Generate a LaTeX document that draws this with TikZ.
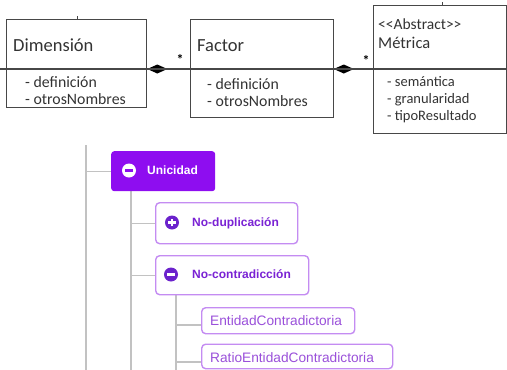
\documentclass[tikz,border=0pt]{standalone}
\usepackage{fontspec}
\setmainfont{Carlito}
\newfontfamily\treefont{Liberation Sans}
\usetikzlibrary{arrows.meta}

\definecolor{umlline}{HTML}{474747}
\definecolor{umltext}{HTML}{333333}
\definecolor{tvfill}{HTML}{8E0DF0}
\definecolor{tvborder}{HTML}{C48CF2}
\definecolor{tvtext}{HTML}{7A22D4}
\definecolor{tvicon}{HTML}{6B22CC}
\definecolor{tvleaf}{HTML}{9A50DA}
\definecolor{treeline}{HTML}{C2C2C2}

\tikzset{
  umlbox/.style={draw=umlline, line width=1.3pt, anchor=north west, inner sep=0pt},
  divider/.style={draw=umlline, line width=1.3pt},
  umltitle/.style={anchor=base west, inner sep=0pt, text=umltext,
    font=\fontsize{18.5}{22}\selectfont},
  umlsmalltitle/.style={anchor=base west, inner sep=0pt, text=umltext,
    font=\fontsize{16.5}{20}\selectfont},
  umlstereo/.style={anchor=base west, inner sep=0pt, text=umltext,
    font=\fontsize{15.5}{18}\selectfont},
  umlattr/.style={anchor=base west, inner sep=0pt, text=umltext,
    font=\fontsize{15.8}{18}\selectfont},
  umlsmallattr/.style={anchor=base west, inner sep=0pt, text=umltext,
    font=\fontsize{14.5}{17}\selectfont},
  assoc/.style={draw=umlline, line width=1.2pt},
  mult/.style={inner sep=0pt, text=black, font=\bfseries\fontsize{14}{14}\selectfont},
  treeconn/.style={draw=treeline, line width=1.4pt},
  groupbox/.style={fill=tvfill, rounded corners=3pt, anchor=north west, inner sep=0pt},
  branchbox/.style={draw=tvborder, fill=white, line width=1.4pt, rounded corners=4pt,
    anchor=north west, inner sep=0pt},
  grouplabel/.style={anchor=base west, inner sep=0pt, text=white,
    font=\treefont\bfseries\fontsize{12}{14}\selectfont},
  branchlabel/.style={anchor=base west, inner sep=0pt, text=tvtext,
    font=\treefont\bfseries\fontsize{12}{14}\selectfont},
  leaflabel/.style={anchor=base west, inner sep=0pt, text=tvleaf,
    font=\treefont\fontsize{13.7}{16}\selectfont},
}

\begin{document}
\begin{tikzpicture}[x=1pt, y=-1pt]
\useasboundingbox (0,0) rectangle (507,370);

% ---------- UML classes ----------
\coordinate (divy) at (0,69);

\node[umlbox, minimum width=140.5pt, minimum height=88pt] (dim) at (5.5,19) {};
\draw[divider] (dim.west |- divy) -- (dim.east |- divy);
\node[umltitle] (dimname) at (13,51) {Dimensión};
\node[umlattr] (dima1) at (25,87) {- definición};
\node[umlattr] (dima2) at (25,104) {- otrosNombres};

\node[umlbox, minimum width=142.5pt, minimum height=98pt] (fac) at (190,19) {};
\draw[divider] (fac.west |- divy) -- (fac.east |- divy);
\node[umltitle] (facname) at (197,51) {Factor};
\node[umlattr] (faca1) at (207,89) {- definición};
\node[umlattr] (faca2) at (207,106) {- otrosNombres};

\node[umlbox, minimum width=133.5pt, minimum height=128pt] (met) at (372.5,5) {};
\draw[divider] (met.west |- divy) -- (met.east |- divy);
\node[umlstereo] (metstereo) at (378,29.5) {<{}<Abstract>{}>};
\node[umlsmalltitle] (metname) at (378,48) {Métrica};
\node[umlsmallattr] (meta1) at (387,86) {- semántica};
\node[umlsmallattr] (meta2) at (387,103) {- granularidad};
\node[umlsmallattr] (meta3) at (387,120) {- tipoResultado};

% compositions: filled diamond at the whole end, plain line to the part
\coordinate (c1) at (dim.east |- divy);
\coordinate (c2) at (fac.east |- divy);
\fill[black] (c1) -- ++(10,-4.5) -- ++(10,4.5) -- ++(-10,4.5) -- cycle;
\fill[black] (c2) -- ++(10,-4.5) -- ++(10,4.5) -- ++(-10,4.5) -- cycle;
\draw[assoc] (c1) -- (fac.west |- divy);
\draw[assoc] (c2) -- (met.west |- divy);
\node[mult] (m1) at (180,59) {*};
\node[mult] (m2) at (366,60) {*};

% line stubs continuing outside the view
\coordinate (stubL) at (0,69);
\draw[divider] (stubL) -- (stubL -| dim.west);
\coordinate (tickD) at (77,16);
\draw[umlline, line width=1pt] (tickD) -- (tickD |- dim.north);
\coordinate (tickM) at (442,2);
\draw[umlline, line width=1pt] (tickM) -- (tickM |- met.north);

% ---------- tree ----------
\coordinate (t1top) at (86,145);
\coordinate (t1bot) at (86,370);
\coordinate (t2top) at (131,191);
\coordinate (t2bot) at (131,370);
\coordinate (t3top) at (176,294);
\coordinate (t3bot) at (176,370);
\draw[treeconn] (t1top) -- (t1bot);
\draw[treeconn] (t2top) -- (t2bot);
\draw[treeconn] (t3top) -- (t3bot);

% Unicidad
\node[groupbox, minimum width=104pt, minimum height=40pt] (uni) at (111,151) {};
\draw[treeconn] (t1top |- uni.west) -- (uni.west);
\node[circle, fill=white, minimum size=14pt, inner sep=0pt] (uniicon) at (129,170.5) {};
\draw[tvfill, line width=2.2pt] ([xshift=-3.6pt]uniicon.center) -- ([xshift=3.6pt]uniicon.center);
\node[grouplabel] (unilabel) at (147,174.8) {Unicidad};

% No-duplicación
\node[branchbox, minimum width=142pt, minimum height=41pt] (nodup) at (155,202) {};
\draw[treeconn] (t2top |- nodup.west) -- (nodup.west);
\node[circle, fill=tvicon, minimum size=14pt, inner sep=0pt] (nodupicon) at (172,222.5) {};
\draw[white, line width=2.2pt] ([xshift=-3.8pt]nodupicon.center) -- ([xshift=3.8pt]nodupicon.center);
\draw[white, line width=2.2pt] ([yshift=-3.8pt]nodupicon.center) -- ([yshift=3.8pt]nodupicon.center);
\node[branchlabel] (noduplabel) at (192,226.8) {No-duplicación};

% No-contradicción
\node[branchbox, minimum width=153pt, minimum height=39pt] (nocon) at (155,255) {};
\draw[treeconn] (t2top |- nocon.west) -- (nocon.west);
\node[circle, fill=tvicon, minimum size=14pt, inner sep=0pt] (noconicon) at (171,274.5) {};
\draw[white, line width=2.2pt] ([xshift=-3.8pt]noconicon.center) -- ([xshift=3.8pt]noconicon.center);
\node[branchlabel] (noconlabel) at (192,278.8) {No-contradicción};

% leaves
\node[branchbox, minimum width=153pt, minimum height=26pt] (ent) at (201,307) {};
\coordinate (entjoin) at (201,325);
\draw[treeconn] (t3top |- entjoin) -- (entjoin);
\node[leaflabel] (entlabel) at (210,325.5) {EntidadContradictoria};

\node[branchbox, minimum width=191pt, minimum height=24.5pt] (ratio) at (201,343.5) {};
\coordinate (ratiojoin) at (201,362);
\draw[treeconn] (t3top |- ratiojoin) -- (ratiojoin);
\node[leaflabel] (ratiolabel) at (210,362) {RatioEntidadContradictoria};
\end{tikzpicture}
\end{document}
